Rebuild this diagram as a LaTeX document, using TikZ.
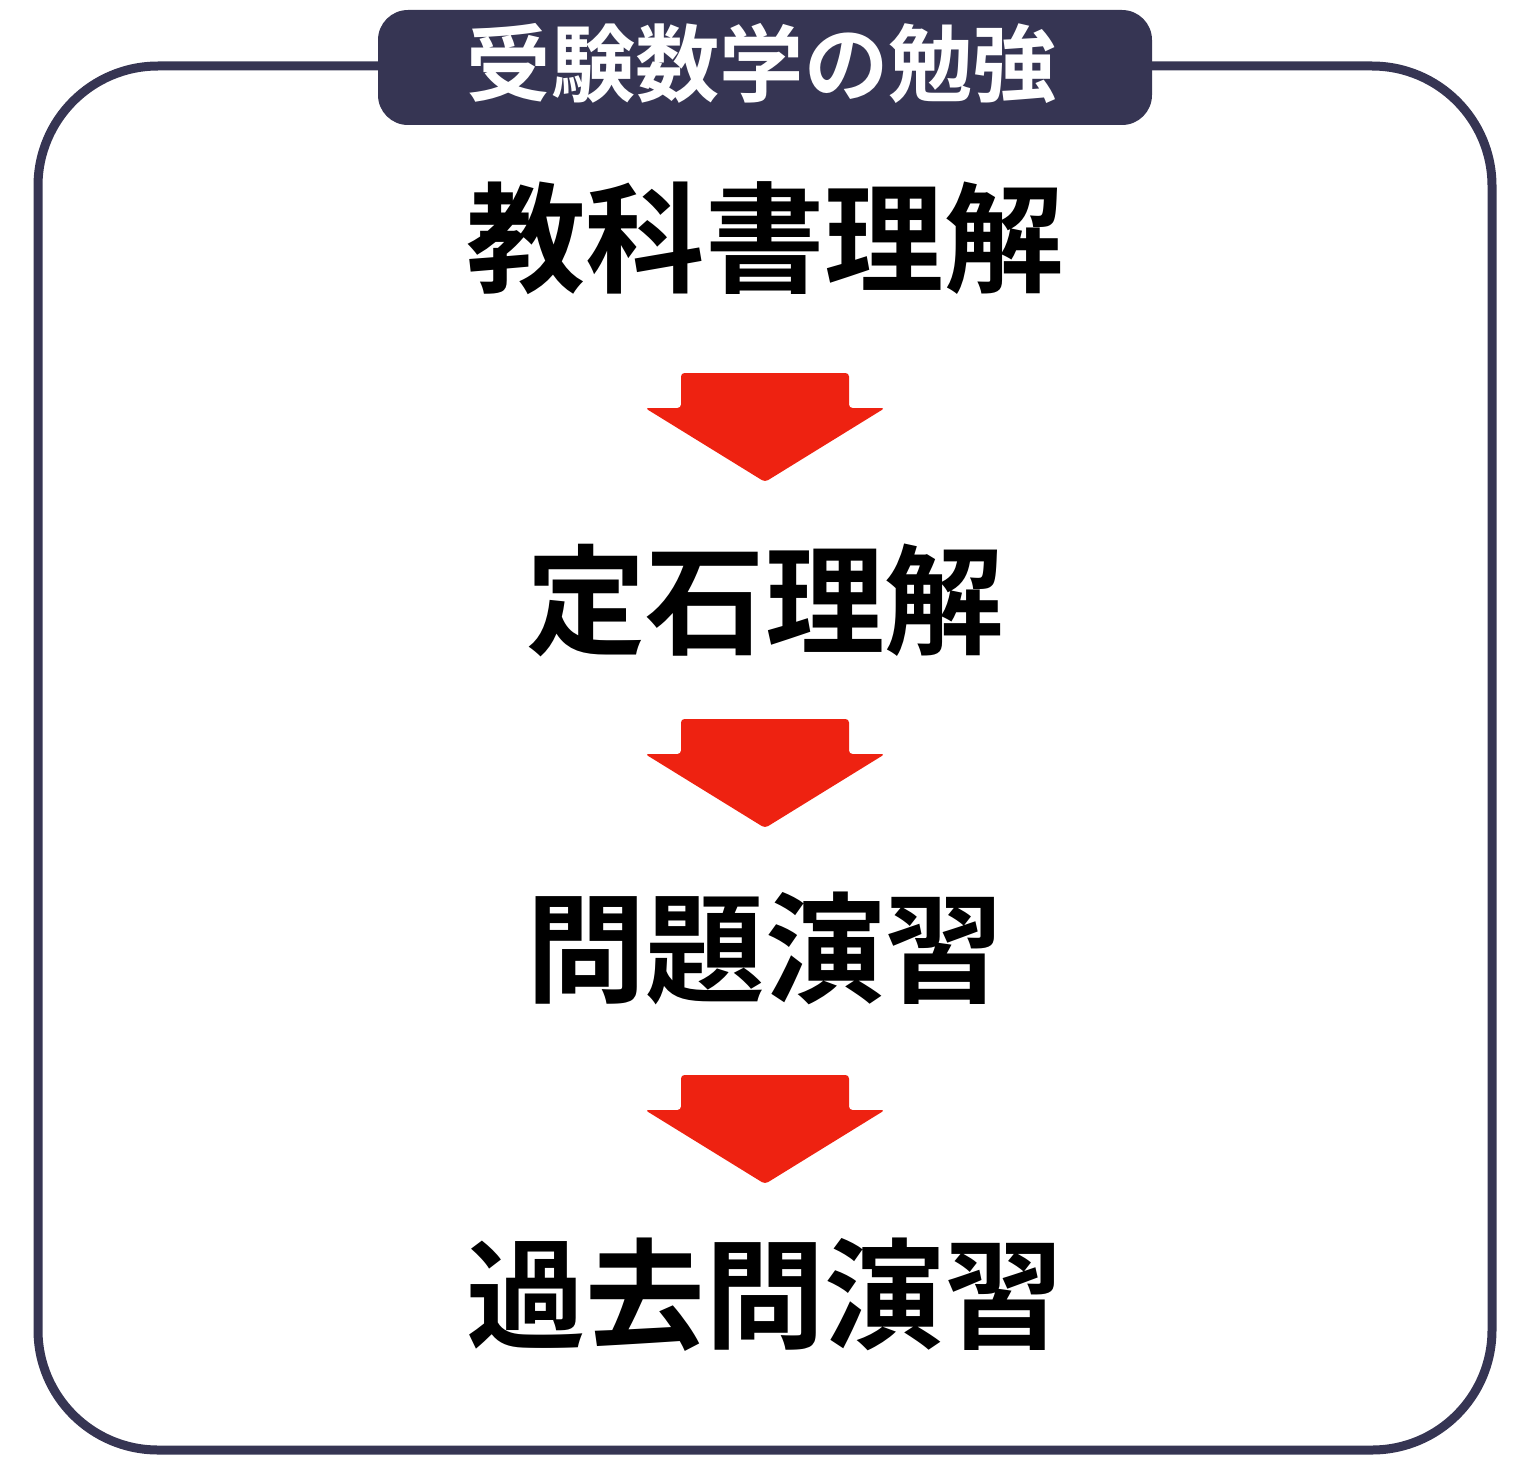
\documentclass[tikz,border=0pt]{standalone}
\usepackage{fontspec}
\newfontfamily\jpfont{Noto Sans CJK JP Bold}
\definecolor{frame}{HTML}{363553}
\definecolor{arrowred}{HTML}{EE2211}
\tikzset{
  step text/.style={font=\jpfont\fontsize{68}{70}\selectfont, inner sep=0pt},
  down arrow/.style={fill=arrowred, rounded corners=2pt}
}
\newcommand{\downarrowat}[1]{% top y in px
  \fill[down arrow] (681,-#1) -- (849,-#1) -- (849,-#1-35) -- (885,-#1-35)
    -- (765,-#1-109) -- (645,-#1-35) -- (681,-#1-35) -- cycle;}
\begin{document}
\begin{tikzpicture}[x=0.02cm,y=0.02cm]
  \useasboundingbox (0,0) rectangle (1532,-1470);
  \draw[frame, line width=9*0.02cm, rounded corners=120*0.02cm]
    (38,-66) rectangle (1492,-1450);
  \fill[frame, rounded corners=30*0.02cm] (378,-10) rectangle (1152,-125);
  \node[white, font=\jpfont\fontsize{48}{50}\selectfont, inner sep=0pt]
    (title) at (762,-63) {受験数学の勉強};
  \node[step text] (textbook) at (765,-238) {教科書理解};
  \node[step text] (pattern) at (765,-600) {定石理解};
  \node[step text] (practice) at (765,-948) {問題演習};
  \node[step text] (pastexam) at (765,-1295) {過去問演習};
  \downarrowat{373}
  \downarrowat{719}
  \downarrowat{1075}
\end{tikzpicture}
\end{document}
